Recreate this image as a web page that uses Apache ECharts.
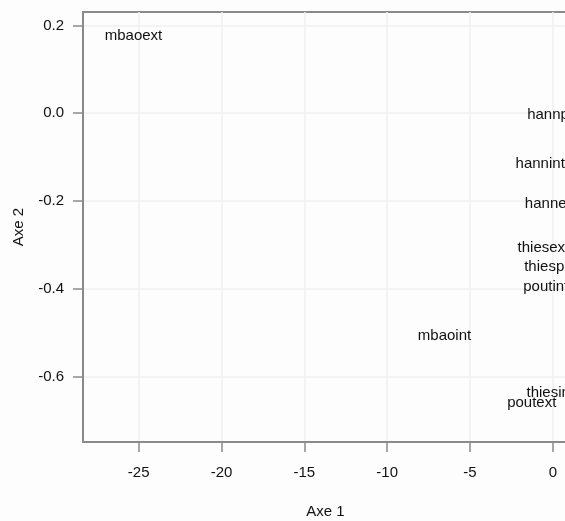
<!DOCTYPE html>
<html>
<head>
<meta charset="utf-8">
<script src="https://cdn.jsdelivr.net/npm/echarts@6/dist/echarts.min.js"></script>
<style>
  html, body { margin: 0; padding: 0; background: #fdfdfd; }
  #chart { width: 565px; height: 521px; }
</style>
</head>
<body>
<div id="chart"></div>
<script>
// Factorial map: site/position labels on the first two axes
const labels = ['mbaoext', 'mbaoint', 'hannp', 'hannint', 'hannext', 'thiesext', 'thiesp', 'poutint', 'thiesint', 'poutext'];
const axe1 = [-27.05, -8.15, -1.55, -2.25, -1.69, -2.13, -1.73, -1.79, -1.59, -2.76];
const axe2 = [0.177, -0.508, -0.004, -0.116, -0.207, -0.306, -0.350, -0.395, -0.637, -0.659];

const xTicks = [-25, -20, -15, -10, -5, 0];
const yTicks = [-0.6, -0.4, -0.2, 0.0, 0.2];

const points = labels.map((name, i) => ({ name: name, value: [axe1[i], axe2[i]] }));

const textColor = '#111111';
const frameColor = '#8a8a8a';
const gridColor = '#efefef';
const font = 'Liberation Sans, Arial, Helvetica, sans-serif';

const chart = echarts.init(document.getElementById('chart'), null, { renderer: 'canvas' });
chart.setOption({
  backgroundColor: '#fdfdfd',
  animation: false,
  grid: {
    left: 83, top: 12, bottom: 79, right: -21,
    containLabel: false,
    outerBoundsMode: 'none',
    show: true,
    borderColor: frameColor,
    borderWidth: 2,
    backgroundColor: 'transparent'
  },
  xAxis: {
    type: 'value',
    min: -28.36, max: 2,
    name: 'Axe 1',
    nameLocation: 'middle',
    nameGap: 62,
    nameTextStyle: { color: textColor, fontSize: 15, fontFamily: font, padding: [0, 18, 0, 0] },
    axisLine: { show: true, onZero: false, lineStyle: { color: frameColor, width: 2 } },
    axisTick: { show: true, inside: false, length: 10, customValues: xTicks, lineStyle: { color: frameColor, width: 1.5 } },
    axisLabel: { customValues: xTicks, margin: 23, color: textColor, fontSize: 15, fontFamily: font },
    splitLine: { show: true, lineStyle: { color: gridColor, width: 1.5 } }
  },
  yAxis: {
    type: 'value',
    min: -0.749, max: 0.2306,
    name: 'Axe 2',
    nameLocation: 'middle',
    nameRotate: 90,
    nameGap: 57,
    nameTextStyle: { color: textColor, fontSize: 15, fontFamily: font },
    axisLine: { show: true, onZero: false, lineStyle: { color: frameColor, width: 2 } },
    axisTick: { show: true, inside: false, length: 10, customValues: yTicks, lineStyle: { color: frameColor, width: 1.5 } },
    axisLabel: {
      customValues: yTicks, margin: 19, color: textColor, fontSize: 15, fontFamily: font,
      formatter: v => v.toFixed(1)
    },
    splitLine: { show: true, lineStyle: { color: gridColor, width: 1.5 } }
  },
  series: [{
    type: 'scatter',
    data: points,
    symbolSize: 0,
    clip: false,
    itemStyle: { opacity: 1 },
    label: {
      show: true,
      position: 'right',
      distance: 0,
      formatter: p => p.name,
      color: textColor,
      opacity: 1,
      fontSize: 15,
      fontFamily: font
    }
  }]
});
</script>
</body>
</html>
